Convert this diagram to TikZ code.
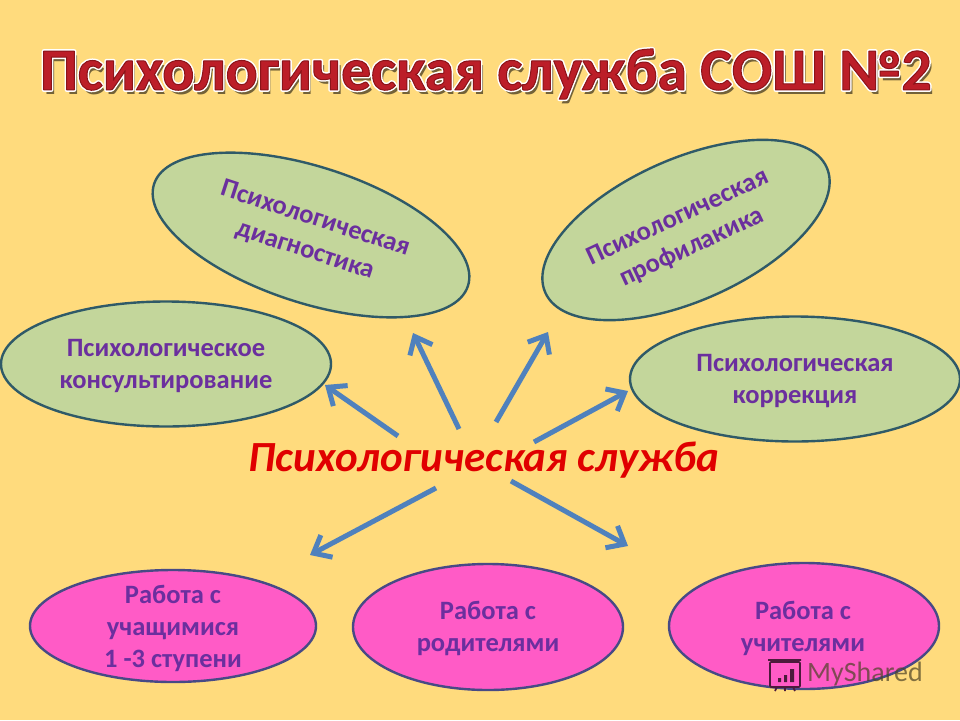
\documentclass[tikz,border=0pt]{standalone}
\usepackage{fontspec}
\setmainfont{Carlito}
\usetikzlibrary{arrows.meta,shapes.geometric}
\definecolor{bgc}{HTML}{FFDB7D}
\definecolor{greenf}{HTML}{C3D69B}
\definecolor{pinkf}{HTML}{FF5BC6}
\definecolor{greenb}{HTML}{2F5A68}
\definecolor{pinkb}{HTML}{474A85}
\definecolor{purp}{HTML}{6B2F9E}
\definecolor{arr}{HTML}{4F81BD}
\definecolor{titlered}{HTML}{BC1E28}
\newcommand{\outlined}[1]{\special{pdf:code q 2 Tr 4 w 1 j 1 1 1 RG 1 1 1 rg}#1\special{pdf:code Q}}
\newcommand{\heavy}[1]{\special{pdf:code q 2 Tr 1 w 1 j 0.55 0.08 0.1 RG}#1\special{pdf:code Q}}
\tikzset{
 oval/.style={ellipse,draw,line width=2.4pt,inner sep=0pt,outer sep=0pt,minimum width=2*#1},
 greenov/.style={fill=greenf,draw=greenb},
 pinkov/.style={fill=pinkf,draw=pinkb},
 lab/.style={text=purp,font=\fontsize{26.5}{32}\selectfont\bfseries,align=center,inner sep=0pt},
 rlab/.style={text=purp,font=\fontsize{26.5}{33}\selectfont\bfseries,align=center,inner sep=0pt},
 link/.style={draw=arr,line width=5pt,-{Straight Barb[length=15pt,width=25pt,line width=5pt]}},
 ttl/.style={font=\fontsize{59.6}{60}\selectfont\bfseries,inner sep=0pt}
}
\begin{document}
\begin{tikzpicture}[x=1pt,y=-1pt]
\useasboundingbox (0,0) rectangle (960,720);
\fill[bgc] (0,0) rectangle (960,720);
% title
\node[ttl,text=black!55!bgc] (titleshadow) at (489,79) {Психологическая служба СОШ №2};
\node[ttl,text=white] (titleglow) at (486,74) {\outlined{Психологическая служба СОШ №2}};
\node[ttl,text=titlered] (title) at (486,74) {\heavy{Психологическая служба СОШ №2}};
% ovals
\node[oval=165pt,minimum height=136pt,greenov,rotate=-18] (diag) at (311,235) {};
\node[oval=154pt,minimum height=142pt,greenov,rotate=24] (prof) at (686,230) {};
\node[oval=165pt,minimum height=125pt,greenov] (kons) at (166,364) {};
\node[oval=165pt,minimum height=125pt,greenov] (korr) at (795,379) {};
\node[oval=143pt,minimum height=112pt,pinkov] (uch) at (173,626) {};
\node[oval=135pt,minimum height=126pt,pinkov] (rod) at (488,627) {};
\node[oval=135pt,minimum height=126pt,pinkov] (teach) at (804,626) {};
% labels
\node[rlab,rotate=-18] (diagt) at (310,235) {Психологическая\\диагностика};
\node[rlab,rotate=25] (proft) at (685,233) {Психологическая\\профилакика};
\node[lab] (konst) at (166,366) {Психологическое\\консультирование};
\node[lab] (korrt) at (795,381) {Психологическая\\коррекция};
\node[lab] (ucht) at (173,628) {Работа с\\учащимися\\1 -3 ступени};
\node[lab] (rodt) at (488,628) {Работа с\\родителями};
\node[lab] (teacht) at (803,628) {Работа с\\учителями};
\node[inner sep=0pt,text=red!88!black,font=\fontsize{43}{43}\selectfont\bfseries\itshape] (c) at (484,460) {Психологическая служба};
% arrows
\coordinate (a1s) at (398,436); \coordinate (a1e) at (325,385);
\coordinate (a2s) at (459,429); \coordinate (a2e) at (413,333);
\coordinate (a3s) at (496,422); \coordinate (a3e) at (548,332);
\coordinate (a4s) at (534,442); \coordinate (a4e) at (628,391);
\coordinate (a5s) at (436,488); \coordinate (a5e) at (310,555);
\coordinate (a6s) at (511,481); \coordinate (a6e) at (628,546);
\draw[link] (a1s) -- (a1e);
\draw[link] (a2s) -- (a2e);
\draw[link] (a3s) -- (a3e);
\draw[link] (a4s) -- (a4e);
\draw[link] (a5s) -- (a5e);
\draw[link] (a6s) -- (a6e);
% watermark
\node[anchor=west,inner sep=0pt,text=black!70!bgc,opacity=.7,font=\fontsize{28}{28}\selectfont] (wm) at (807,674) {MyShared};
\draw[black!70!pinkf,line width=1.6pt,rounded corners=1pt] (770,662) rectangle (800,687);
\draw[black!70!pinkf,line width=1.6pt] (768,660) -- (801,660) (777,687) -- (775,691) (785,687) -- (785,691) (793,687) -- (795,691);
\fill[black!70!pinkf] (778,678) rectangle (781,682) (784,675) rectangle (787,682) (790,669) rectangle (794,682);
\end{tikzpicture}
\end{document}
